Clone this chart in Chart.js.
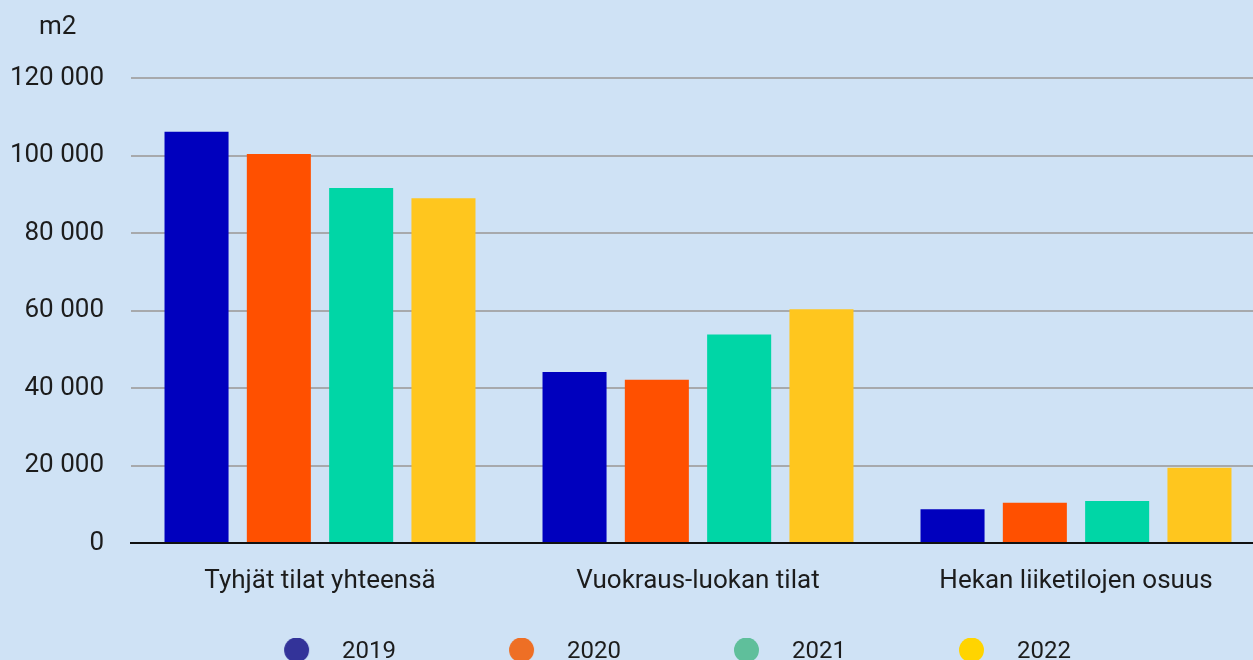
<!DOCTYPE html>
<html>
<head>
<meta charset="utf-8">
<script src="https://cdn.jsdelivr.net/npm/chart.js@4"></script>
<style>
  html, body { margin: 0; padding: 0; background: #CFE2F5; overflow: hidden; }
  #wrap { width: 1265px; height: 674px; background: #CFE2F5; }
</style>
</head>
<body>
<div id="wrap"><canvas id="c" width="1265" height="674"></canvas></div>
<script>
const categories = ['Tyhjät tilat yhteensä', 'Vuokraus-luokan tilat', 'Hekan liiketilojen osuus'];
const years = ['2019', '2020', '2021', '2022'];
const values2019 = [106100, 44100, 8700];
const values2020 = [100400, 42100, 10400];
const values2021 = [91600, 53800, 10850];
const values2022 = [89000, 60300, 19450];
const yTicks = [0, 20000, 40000, 60000, 80000, 100000, 120000];
const unitLabel = 'm2';

const barColors = ['#0000BE', '#FF5000', '#00D6A6', '#FFC61E'];
const legendColors = ['#333399', '#EE6F25', '#5FBF9B', '#FFD400'];
const FONT = 'Roboto';
const TEXT = '#1c1c1c';

function dot(color) {
  const cv = document.createElement('canvas');
  cv.width = 100; cv.height = 28;
  const g = cv.getContext('2d');
  g.fillStyle = color;
  g.beginPath();
  g.arc(50 + 34.5, 12, 12.5, 0, Math.PI * 2);
  g.fill();
  return cv;
}
const dots = legendColors.map(dot);

const series = [values2019, values2020, values2021, values2022];
const datasets = series.map((vals, i) => ({
  label: years[i],
  data: vals,
  backgroundColor: barColors[i],
  borderWidth: 0,
  categoryPercentage: 0.871,
  barPercentage: 0.778
}));

const unitPlugin = {
  id: 'unit',
  afterDraw(chart) {
    const ctx = chart.ctx;
    ctx.save();
    ctx.font = '26px ' + FONT;
    ctx.fillStyle = TEXT;
    ctx.textAlign = 'left';
    ctx.textBaseline = 'middle';
    ctx.fillText(unitLabel, 39, 27);
    ctx.restore();
  }
};

new Chart(document.getElementById('c'), {
  type: 'bar',
  data: { labels: categories, datasets },
  plugins: [unitPlugin],
  options: {
    responsive: false,
    animation: false,
    devicePixelRatio: 1,
    layout: { padding: { top: 78, left: 0, right: 0, bottom: 0 } },
    plugins: {
      tooltip: { enabled: false },
      legend: {
        position: 'bottom',
        align: 'center',
        labels: {
          usePointStyle: true,
          pointStyleWidth: 136,
          boxHeight: 24,
          padding: 23,
          color: TEXT,
          font: { family: FONT, size: 24 },
          generateLabels(chart) {
            return years.map((y, i) => ({
              text: y,
              fillStyle: legendColors[i],
              strokeStyle: legendColors[i],
              lineWidth: 0,
              pointStyle: dots[i],
              datasetIndex: i,
              hidden: false,
              fontColor: TEXT
            }));
          }
        }
      }
    },
    scales: {
      x: {
        grid: { display: false, drawTicks: false },
        border: { display: true, color: '#111111', width: 2 },
        ticks: { color: TEXT, font: { family: FONT, size: 26 }, padding: 23, maxRotation: 0 },
        afterFit(axis) { axis.height = 74; }
      },
      y: {
        min: 0,
        max: 120000,
        afterBuildTicks(axis) { axis.ticks = yTicks.map(v => ({ value: v })); },
        grid: { color: '#A7A9AC', lineWidth: 2, drawTicks: false },
        border: { display: false },
        ticks: {
          color: TEXT,
          font: { family: FONT, size: 26 },
          padding: 27,
          callback: v => String(v).replace(/\B(?=(\d{3})+(?!\d))/g, ' ')
        },
        afterFit(axis) { axis.width = 131; }
      }
    }
  }
});
</script>
</body>
</html>
